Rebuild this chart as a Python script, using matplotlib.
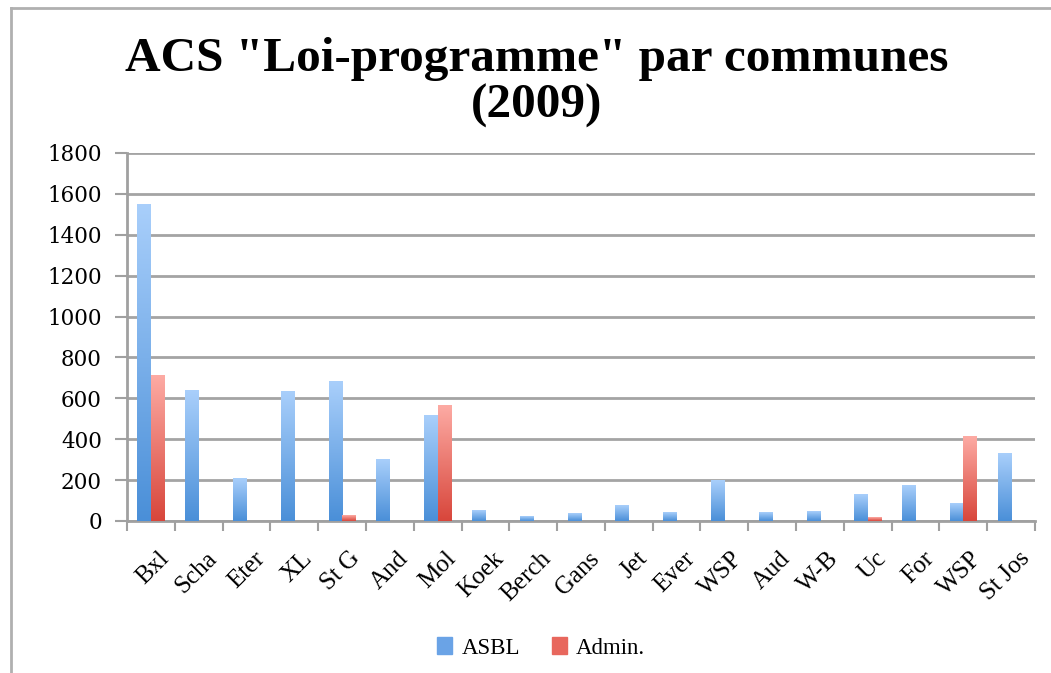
import numpy as np
import matplotlib.pyplot as plt
import matplotlib.transforms as mtransforms
from matplotlib.lines import Line2D
from matplotlib.colors import LinearSegmentedColormap
from matplotlib.patches import Rectangle

# Données
communes = ['Bxl', 'Scha', 'Eter', 'XL', 'St G', 'And', 'Mol', 'Koek', 'Berch',
            'Gans', 'Jet', 'Ever', 'WSP', 'Aud', 'W-B', 'Uc', 'For', 'WSP', 'St Jos']
asbl = [1550, 640, 210, 635, 680, 300, 518, 52, 22, 38, 75, 44, 196, 40, 45, 132, 176, 88, 329]
admin = [710, 0, 0, 0, 25, 0, 567, 0, 0, 0, 0, 0, 0, 0, 0, 18, 0, 411, 0]
yticks = [0, 200, 400, 600, 800, 1000, 1200, 1400, 1600, 1800]

blue_cmap = LinearSegmentedColormap.from_list('b', ['#4a8fd8', '#a9cffb'])
red_cmap = LinearSegmentedColormap.from_list('r', ['#d8463b', '#fdaba4'])

fig = plt.figure(figsize=(10.51, 6.73), dpi=100)
ax = fig.add_axes([0.1208, 0.2259, 0.8640, 0.5468])

x = np.arange(len(communes))
w = 0.28
off = 0.14
b1 = ax.bar(x - off, asbl, w, color='#7aaee9', zorder=2)
b2 = ax.bar(x + off, admin, w, color='#ec7b71', zorder=2)

# dégradé vertical dans chaque barre
grad = np.linspace(0, 1, 256).reshape(-1, 1)
for bars, cmap in [(b1, blue_cmap), (b2, red_cmap)]:
    for r in bars:
        h = r.get_height()
        if h <= 0:
            r.set_visible(False)
            continue
        x0 = r.get_x()
        ax.imshow(grad, cmap=cmap, origin='lower', aspect='auto', zorder=3,
                  extent=(x0, x0 + r.get_width(), 0, h), interpolation='bilinear')

ax.set_xlim(-0.5, len(communes) - 0.5)
ax.set_ylim(0, 1800)
ax.set_yticks(yticks)
ax.set_yticklabels([str(v) for v in yticks], family='DejaVu Serif', fontsize=15.5)
ax.yaxis.grid(True, color='#a4a4a4', linewidth=2)
ax.set_axisbelow(True)

ax.set_xticks(x)
ax.set_xticklabels(communes, rotation=45, ha='right', rotation_mode='anchor',
                   family='Liberation Serif', fontsize=18)
ax.tick_params(axis='x', length=0, pad=19)
shift = mtransforms.ScaledTranslation(7 / 100, 0, fig.dpi_scale_trans)
for lab in ax.get_xticklabels():
    lab.set_transform(lab.get_transform() + shift)
ax.set_xticks(np.arange(-0.5, len(communes)), minor=True)
ax.tick_params(axis='x', which='minor', length=7, width=1.5, color='#a0a0a0')
ax.tick_params(axis='y', length=9, width=1.5, color='#a0a0a0', pad=9)

for s in ['top', 'right']:
    ax.spines[s].set_visible(False)
for s in ['left', 'bottom']:
    ax.spines[s].set_color('#a0a0a0')
    ax.spines[s].set_linewidth(2)

fig.text(0.511, 0.877, 'ACS "Loi-programme" par communes\n(2009)', ha='center', va='center',
         family='Liberation Serif', fontweight='bold', fontsize=35.5, linespacing=1.07)

# légende
handles = [Rectangle((0, 0), 1, 1, color='#6aa3e6'), Rectangle((0, 0), 1, 1, color='#e8675d')]
fig.legend(handles, ['ASBL', 'Admin.'], loc='center', bbox_to_anchor=(0.515, 0.037),
           ncol=2, frameon=False, prop={'family': 'Liberation Serif', 'size': 16.5},
           handlelength=0.65, handleheight=0.75, handletextpad=0.4, columnspacing=1.4)

# cadre gris du graphique
fig.add_artist(Line2D([0.0105, 0.0105], [0, 0.988], transform=fig.transFigure, color='#b0b0b0', lw=2))
fig.add_artist(Line2D([0.0105, 1], [0.988, 0.988], transform=fig.transFigure, color='#b0b0b0', lw=2))

fig.savefig('out.png', dpi=100)
